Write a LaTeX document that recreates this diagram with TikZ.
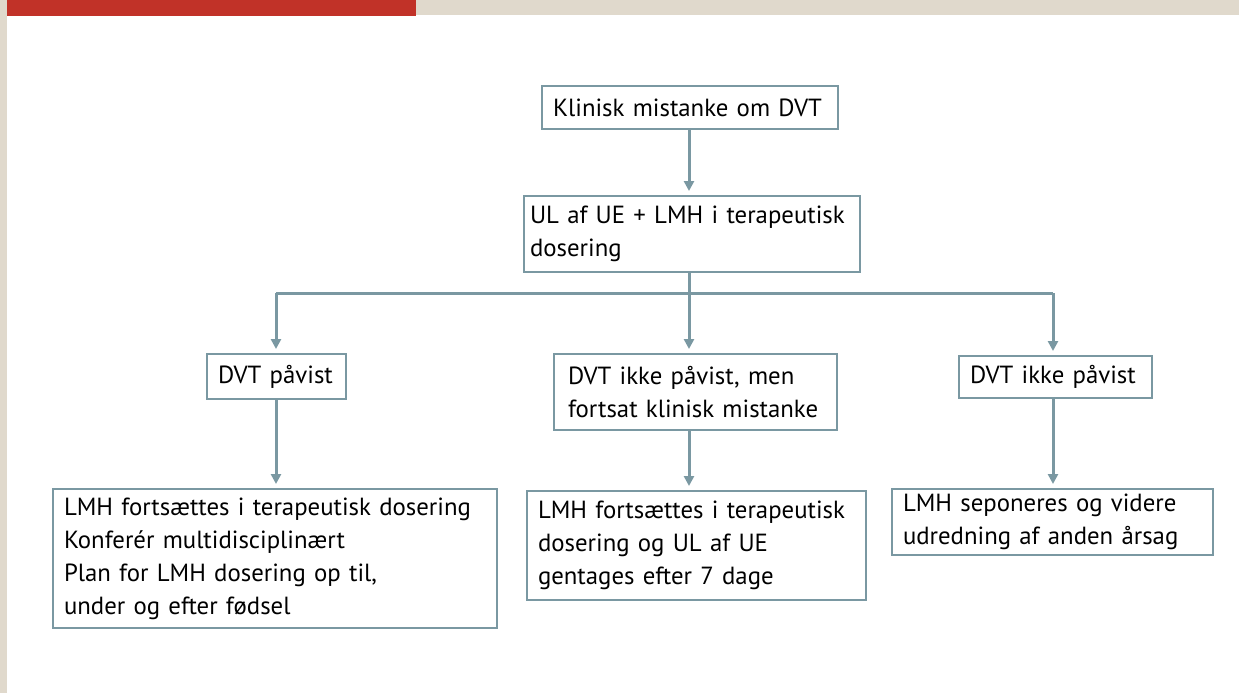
\documentclass[tikz,border=0pt]{standalone}
\usepackage{fontspec}
\setmainfont{PT Sans}
\usepackage{tikz}
\usetikzlibrary{arrows.meta, positioning}

\definecolor{linec}{RGB}{122,152,162}
\definecolor{topred}{RGB}{193,50,40}
\definecolor{sand}{RGB}{224,217,204}

\begin{document}
\begin{tikzpicture}[
  x=0.5pt, y=-0.5pt,
  box/.style={draw=linec, line width=1pt, fill=white, align=left,
              inner xsep=5.5pt, inner ysep=0pt,
              font=\fontsize{12.4}{16.5}\selectfont},
  link/.style={draw=linec, line width=1.5pt},
  arr/.style={link, -{Triangle[width=5pt,length=5pt]}, shorten >=2pt}
]
  \useasboundingbox (0,0) rectangle (1239,693);
  % page decoration
  \fill[sand]   (0,0) rectangle (7,693);
  \fill[topred] (7,0) rectangle (416,16);
  \fill[sand]   (416,0) rectangle (1239,15);

  \node[box, text width=137pt, minimum height=21.5pt] (klin) at (690,107.5)
    {Klinisk mistanke om DVT};
  \node[box, inner xsep=3pt, text width=162pt, minimum height=38pt] (ul) at (692,234)
    {UL af UE + LMH i terapeutisk\\dosering};

  \node[box, text width=58.5pt, minimum height=22.5pt] (pos) at (276.5,376.5)
    {DVT påvist};
  \node[box, inner xsep=7pt, text width=127.5pt, minimum height=38pt] (mist) at (695.5,392)
    {DVT ikke påvist, men\\fortsat klinisk mistanke};
  \node[box, text width=85.5pt, minimum height=21pt] (neg) at (1055.5,377)
    {DVT ikke påvist};

  \node[box, text width=211pt, minimum height=69.5pt] (respos) at (275,558.5)
    {LMH fortsættes i terapeutisk dosering\\Konferér multidisciplinært\\Plan for LMH dosering op til,\\under og efter fødsel};
  \node[box, text width=158.5pt, minimum height=54.5pt] (resmist) at (696.5,545.5)
    {LMH fortsættes i terapeutisk\\dosering og UL af UE\\gentages efter 7 dage};
  \node[box, text width=149.5pt, minimum height=33pt] (resneg) at (1052.5,522)
    {LMH seponeres og videre\\udredning af anden årsag};

  \coordinate (bus)  at (689,293);
  \coordinate (busl) at (276,293);
  \coordinate (busr) at (1053,293);

  \draw[arr] (klin.south -| bus) -- (ul.north -| bus);
  \draw[link] (ul.south -| bus) -- (bus);
  \draw[link] (busl) -- (busr);
  \draw[arr] (busl) -- (busl |- pos.north);
  \draw[arr] (bus)  -- (bus |- mist.north);
  \draw[arr] (busr) -- (busr |- neg.north);

  \draw[arr] (pos.south -| busl)  -- (busl |- respos.north);
  \draw[arr] (mist.south -| bus)  -- (bus |- resmist.north);
  \draw[arr] (neg.south -| busr)  -- (busr |- resneg.north);
\end{tikzpicture}
\end{document}
